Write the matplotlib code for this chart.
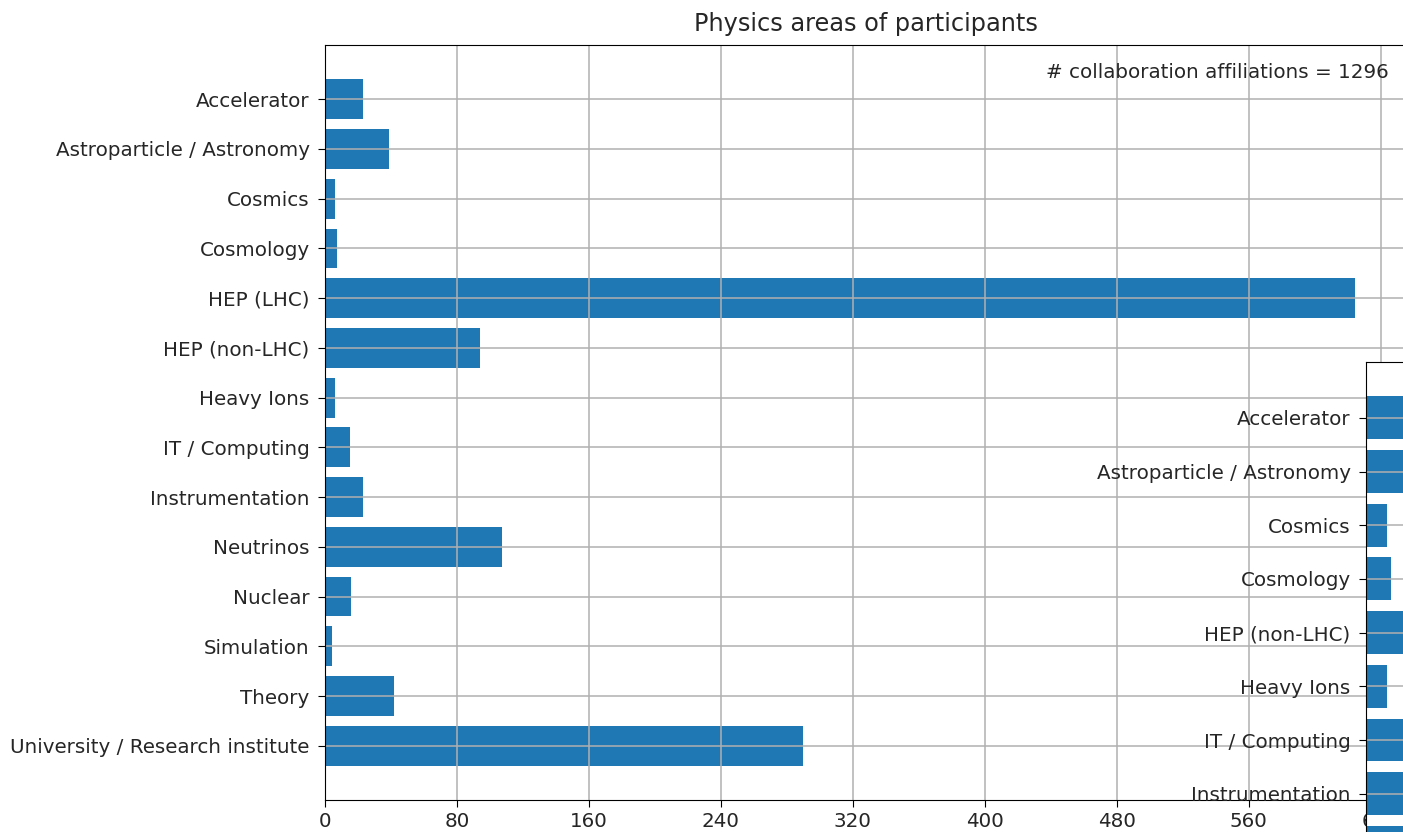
import numpy as np
import matplotlib
matplotlib.use("Agg")
import matplotlib.pyplot as plt
from matplotlib.ticker import MultipleLocator

## data
areas = ["Accelerator", "Astroparticle / Astronomy", "Cosmics", "Cosmology",
         "HEP (LHC)", "HEP (non-LHC)", "Heavy Ions", "IT / Computing",
         "Instrumentation", "Neutrinos", "Nuclear", "Simulation", "Theory",
         "University / Research institute"]
counts = [23, 39, 6, 7, 624, 94, 6, 15, 23, 107, 16, 4, 42, 290]
n_affil = 1296

# second panel (cut off at the right edge) shows everything except HEP (LHC)
areas2 = [a for a in areas if a != "HEP (LHC)"]
counts2 = [c for a, c in zip(areas, counts) if a != "HEP (LHC)"]

W, H = 1403, 832
fs = 14.3
txt_col = "#262626"
fig = plt.figure(figsize=(W / 100, H / 100), dpi=100)

def style_axis(ax):
    ax.invert_yaxis()
    ax.tick_params(axis="both", labelsize=fs, labelcolor=txt_col, length=5)
    ax.tick_params(axis="y", pad=6)
    ax.grid(True, color="#b0b0b0", linewidth=1.1)

## main panel
ax1 = fig.add_axes([325 / W, 1 - 800 / H, (1406 - 325) / W, (800 - 45) / H])
y = np.arange(len(areas))
ax1.barh(y, counts, height=0.8, color="#1f77b4")
ax1.set_yticks(y)
ax1.set_yticklabels(areas)
ax1.xaxis.set_major_locator(MultipleLocator(80))
style_axis(ax1)
ax1.set_title("Physics areas of participants", fontsize=fs * 1.21, color=txt_col, pad=10)
ax1.text(0.984, 0.976, "# collaboration affiliations = " + str(n_affil),
         transform=ax1.transAxes, ha="right", va="top", fontsize=fs, color=txt_col)

## second panel, mostly outside the figure
h2 = 756
ax2 = fig.add_axes([1366 / W, 1 - (362 + h2) / H, 1081 / W, h2 / H], zorder=5)
y2 = np.arange(len(areas2))
ax2.barh(y2, counts2, height=0.8, color="#1f77b4")
ax2.set_yticks(y2)
ax2.set_yticklabels(areas2)
style_axis(ax2)

fig.savefig("out.png", dpi=100)
